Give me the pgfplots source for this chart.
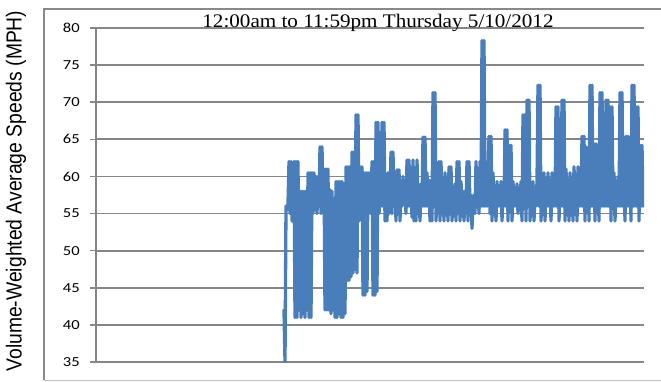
\documentclass[border=0pt]{standalone}
\usepackage{fontspec}
\setmainfont{Liberation Serif}
\newfontfamily\arialfont{Liberation Sans}
\newfontfamily\calibrifont{Carlito}
\usepackage{pgfplots}
\pgfplotsset{compat=1.18}
\definecolor{speedblue}{HTML}{4A7EBB}
\definecolor{gridgray}{HTML}{868686}
\definecolor{framegray}{HTML}{898989}
\definecolor{framelight}{HTML}{BFBFBF}

\begin{document}
\begin{tikzpicture}[x=1pt,y=1pt]
\useasboundingbox (0,0) rectangle (661,381);
% chart frame
\draw[framegray, line width=1.5pt] (44,0.8) -- (44,372) -- (661,372);
\draw[framelight, line width=1pt] (44,0.8) -- (661,0.8);
\begin{axis}[
  at={(96pt,19pt)}, anchor=south west,
  scale only axis, width=548pt, height=334pt,
  xmin=96, xmax=644, ymin=35, ymax=80,
  axis x line=none, axis y line*=left,
  ytick={35,40,...,80},
  ymajorgrids,
  major grid style={gridgray, line width=1.8pt},
  axis line style={gridgray, line width=1.8pt},
  tick align=outside, major tick length=6pt,
  ytick style={gridgray, line width=1.5pt},
  /pgf/number format/assume math mode=true,
  yticklabel style={font=\calibrifont\fontsize{13.8}{14}\selectfont, xscale=1.2, text=black, xshift=-5pt},
]
\addplot[speedblue, line width=3.3pt, line join=round, line cap=round] coordinates {
(284,42) (285,35) (286,56) (287,55.5) (288,56.3) (289,62) (290,55) (291,62) (292,54) (293,55)
(294,62) (295,41) (296,62) (297,41) (298,62) (299,42) (300,58) (301,41) (302,58) (303,41.5)
(304,58) (305,41) (306,58) (307,42) (308,60.5) (309,41) (310,60.5) (311,41) (312,60.5) (313,55)
(314,60.5) (315,55.5) (316,60) (317,55) (318,60) (319,56) (320,64) (321,55) (322,64) (323,56)
(324,61) (325,42) (326,61) (327,42) (328,61) (329,42) (330,58.2) (331,41.5) (332,58) (333,42)
(334,57) (335,41) (336,59.3) (337,41) (338,59.3) (339,41.5) (340,59.3) (341,41) (342,59.3) (343,41)
(344,59) (345,41.5) (346,61.3) (347,46) (348,61.3) (349,46) (350,61.3) (351,46.5) (352,63.3) (353,47)
(354,63.3) (355,47.5) (356,68.3) (357,47) (358,68.3) (359,54) (360,61.3) (361,55) (362,61.3) (363,44)
(364,60.5) (365,44) (366,60.5) (367,44.5) (368,60.5) (369,55) (370,60.5) (371,55) (372,62) (373,44)
(374,62) (375,44) (376,67.3) (377,44.5) (378,67.3) (379,55) (380,57) (381,56) (382,67.3) (383,56)
(384,67.3) (385,54) (386,57.2) (387,54) (388,60.5) (389,55) (390,57) (391,63.3) (392,55) (393,63.3)
(394,56) (395,59) (396,54) (397,60.9) (398,56) (399,60.9) (400,54) (401,59) (402,56) (403,60)
(404,56.5) (405,58) (406,55) (407,62.2) (408,56) (409,62.2) (410,56) (411,59) (412,54.5) (413,62.2)
(414,54) (415,60) (416,54) (417,62.2) (418,56) (419,58) (420,54) (421,59) (422,56) (423,65.3)
(424,56) (425,65.3) (426,56) (427,60.5) (428,56) (429,59.5) (430,54) (431,58) (432,54) (433,71.3)
(434,56) (435,71.3) (436,54) (437,59) (438,56) (439,62) (440,54) (441,62) (442,56) (443,58.5)
(444,54) (445,60.5) (446,56) (447,59) (448,54) (449,61.3) (450,56) (451,61.3) (452,54) (453,58)
(454,56) (455,59) (456,54) (457,62) (458,56) (459,62) (460,54) (461,59.3) (462,56) (463,58)
(464,54) (465,58) (466,56) (467,62) (468,54) (469,62) (470,56) (471,57.5) (472,53) (473,56.5)
(474,57.5) (475,55) (476,62) (477,56) (478,59) (479,55) (480,62) (481,56) (482,78.3) (483,56)
(484,78.3) (485,56) (486,61.3) (487,56) (488,60) (489,65.4) (490,55) (491,65.4) (492,54) (493,60.5)
(494,56) (495,58) (496,54) (497,59.3) (498,56) (499,58) (500,56) (501,59.3) (502,54) (503,58)
(504,56) (505,66.3) (506,56) (507,66.3) (508,54) (509,64.2) (510,56) (511,64.2) (512,54) (513,59.3)
(514,56) (515,58) (516,56) (517,59) (518,55) (519,58) (520,56) (521,59.3) (522,54) (523,68.3)
(524,56) (525,68.3) (526,54) (527,70.3) (528,56) (529,70.3) (530,54) (531,58) (532,56) (533,59.3)
(534,54) (535,58) (536,56) (537,59.3) (538,72.3) (539,56) (540,72.3) (541,54) (542,59) (543,56)
(544,60.5) (545,54) (546,59) (547,56) (548,60.5) (549,56) (550,59) (551,54) (552,60.5) (553,56)
(554,59) (555,56) (556,69.4) (557,56) (558,69.4) (559,54) (560,59) (561,56) (562,70.3) (563,56)
(564,70.3) (565,54) (566,61) (567,56) (568,59) (569,54) (570,60.5) (571,56) (572,59) (573,54)
(574,61.3) (575,56) (576,60) (577,54) (578,61.3) (579,56) (580,60) (581,56) (582,65.4) (583,56)
(584,65.4) (585,54) (586,64) (587,56) (588,62) (589,54) (590,72.3) (591,56) (592,72.3) (593,56)
(594,64.4) (595,54) (596,64.4) (597,56) (598,60) (599,54) (600,71.3) (601,56) (602,71.3) (603,56)
(604,60) (605,56) (606,70.3) (607,56) (608,70.3) (609,56) (610,69.4) (611,54) (612,69.4) (613,56)
(614,60.5) (615,54) (616,59) (617,56) (618,60) (619,56) (620,71.3) (621,56) (622,71.3) (623,56)
(624,60) (625,54) (626,65.4) (627,56) (628,65.4) (629,56) (630,62) (631,54) (632,72.3) (633,56)
(634,72.3) (635,56) (636,69.4) (637,56) (638,69.4) (639,54) (640,64.2) (641,56) (642,64.2) (643,56)
(644,61)
};
\end{axis}
\node[anchor=base, xscale=1.1, font=\fontsize{19.2}{20}\selectfont] at (378,353) {12:00am to 11:59pm Thursday 5/10/2012};
\node[rotate=90, font=\arialfont\fontsize{19.3}{20}\selectfont] at (16,190) {\scalebox{1}[1.13]{Volume-Weighted Average Speeds (MPH)}};
\end{tikzpicture}
\end{document}
